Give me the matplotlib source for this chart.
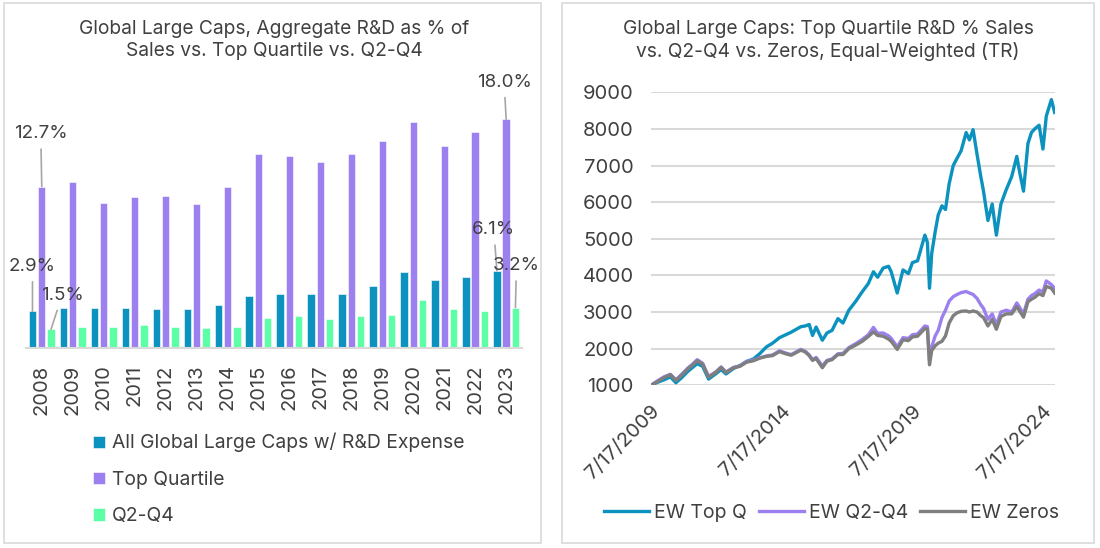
import matplotlib
matplotlib.use("Agg")
import matplotlib.pyplot as plt
from matplotlib.patches import Rectangle
import numpy as np
import pandas as pd

plt.rcParams["font.family"] = ["Inter", "DejaVu Sans"]

TEXT = "#404040"
GRID = "#d9d9d9"
C_ALL = "#0B92BE"
C_TOP = "#9D80EF"
C_Q24 = "#5CFFA5"
C_ZERO = "#7F7F7F"

# left panel: R&D as % of sales
years = [str(y) for y in range(2008, 2024)]
all_caps = [2.9, 3.2, 3.2, 3.2, 3.1, 3.1, 3.4, 4.1, 4.3, 4.3, 4.3, 4.9, 6.0, 5.4, 5.6, 6.1]
top_quartile = [12.7, 13.1, 11.4, 11.9, 12.0, 11.3, 12.7, 15.3, 15.1, 14.6, 15.3, 16.3, 17.8, 15.9, 17.0, 18.0]
q2_q4 = [1.5, 1.7, 1.7, 1.8, 1.7, 1.6, 1.7, 2.4, 2.5, 2.3, 2.5, 2.6, 3.8, 3.1, 2.9, 3.2]

# right panel: equal-weighted total return indices
line_dates = [
    "2009-07-17", "2009-10-15", "2010-01-15", "2010-04-15", "2010-07-01", "2010-09-15",
    "2010-12-15", "2011-02-15", "2011-04-25", "2011-07-10", "2011-10-01", "2012-01-15",
    "2012-03-25", "2012-06-01", "2012-09-15", "2012-12-15", "2013-03-15", "2013-06-20",
    "2013-09-15", "2013-12-20", "2014-03-15", "2014-06-20", "2014-09-15", "2014-12-01",
    "2015-04-15", "2015-06-15", "2015-08-10", "2015-09-25", "2015-11-15", "2016-02-10",
    "2016-04-15", "2016-06-25", "2016-09-15", "2016-11-25", "2017-02-15", "2017-05-25",
    "2017-08-20", "2017-11-15", "2018-01-25", "2018-03-25", "2018-06-10", "2018-08-25",
    "2018-10-01", "2018-12-24", "2019-03-15", "2019-05-30", "2019-07-25", "2019-10-05",
    "2020-01-15", "2020-02-20", "2020-03-20", "2020-04-20", "2020-06-08", "2020-07-20",
    "2020-09-10", "2020-10-30", "2020-12-20", "2021-02-15", "2021-04-10", "2021-06-05",
    "2021-08-15", "2021-09-30", "2021-11-20", "2022-01-15", "2022-03-08", "2022-04-15",
    "2022-06-16", "2022-08-15", "2022-10-12", "2022-12-15", "2023-03-01", "2023-05-15",
    "2023-07-25", "2023-09-05", "2023-10-27", "2023-12-28", "2024-02-15", "2024-04-01",
    "2024-06-01", "2024-07-25", "2024-09-10", "2024-11-20", "2025-01-05",
]
ew_top_q = [
    1000, 1080, 1150, 1230, 1070, 1200,
    1380, 1480, 1590, 1520, 1170, 1320,
    1430, 1310, 1460, 1540, 1650, 1720,
    1860, 2050, 2150, 2300, 2380, 2450,
    2600, 2620, 2660, 2360, 2590, 2230,
    2430, 2500, 2820, 2700, 3050, 3300,
    3550, 3780, 4100, 3950, 4200, 4250,
    4100, 3520, 4150, 4050, 4350, 4400,
    5100, 4900, 3650, 4600, 5200, 5650,
    5900, 5800, 6500, 7000, 7200, 7400,
    7900, 7700, 7980, 7300, 6700, 6300,
    5500, 5950, 5100, 5950, 6350, 6700,
    7250, 6800, 6300, 7600, 7900, 8000,
    8100, 7450, 8350, 8800, 8450,
]
ew_q2_q4 = [
    1000, 1120, 1230, 1300, 1150, 1290,
    1470, 1570, 1700, 1600, 1240, 1370,
    1500, 1360, 1490, 1530, 1650, 1690,
    1750, 1800, 1830, 1940, 1880, 1840,
    1980, 1930, 1830, 1700, 1760, 1530,
    1680, 1720, 1860, 1870, 2030, 2140,
    2250, 2380, 2580, 2420, 2430, 2350,
    2280, 2050, 2300, 2280, 2380, 2400,
    2620, 2600, 1680, 2050, 2350, 2500,
    2850, 3050, 3300, 3420, 3480, 3530,
    3560, 3520, 3480, 3370, 3200, 3100,
    2800, 2950, 2650, 3000, 3050, 3000,
    3250, 3120, 2950, 3350, 3450, 3500,
    3600, 3550, 3850, 3750, 3650,
]
ew_zeros = [
    1000, 1100, 1210, 1290, 1130, 1270,
    1450, 1550, 1670, 1580, 1220, 1360,
    1490, 1350, 1480, 1520, 1630, 1670,
    1740, 1790, 1810, 1920, 1860, 1820,
    1960, 1910, 1810, 1680, 1730, 1480,
    1660, 1700, 1840, 1840, 2000, 2100,
    2200, 2330, 2460, 2360, 2340, 2260,
    2200, 1980, 2240, 2220, 2320, 2340,
    2550, 2530, 1560, 1950, 2080, 2150,
    2200, 2350, 2700, 2900, 2980, 3020,
    3030, 3000, 3030, 3000, 2900, 2850,
    2620, 2800, 2530, 2880, 2950, 2950,
    3150, 3020, 2860, 3280, 3350, 3400,
    3500, 3450, 3700, 3650, 3520,
]
date_ticks = ["2009-07-17", "2014-07-17", "2019-07-17", "2024-07-17"]


def draw_bars(fig):
    ax = fig.add_axes([0.0239, 0.3644, 0.4503, 0.5261])
    x = np.arange(len(years))
    w = 0.24
    b_all = ax.bar(x - 0.3, all_caps, w, color=C_ALL, edgecolor="white", linewidth=0.4,
                   label="All Global Large Caps w/ R&D Expense")
    b_top = ax.bar(x, top_quartile, w, color=C_TOP, edgecolor="white", linewidth=0.4,
                   label="Top Quartile")
    b_q = ax.bar(x + 0.3, q2_q4, w, color=C_Q24, edgecolor="white", linewidth=0.4,
                 label="Q2-Q4")

    ax.set_xlim(-0.5, len(years) - 0.5)
    ax.set_ylim(0, 22.65)
    ax.set_yticks([])
    for side in ["top", "right", "left"]:
        ax.spines[side].set_visible(False)
    ax.spines["bottom"].set_color(GRID)
    ax.spines["bottom"].set_linewidth(1.5)
    ax.set_xticks(x)
    ax.set_xticklabels(years, rotation=90, fontsize=14.5, color=TEXT)
    ax.tick_params(axis="x", length=0, pad=11.5)

    # callouts on first and last year
    first, last = 0, len(years) - 1
    callouts = [
        (first - 0.3, all_caps[first], 0, 45),
        (first, top_quartile[first], -1, 53),
        (first + 0.3, q2_q4[first], 11, 34),
        (last - 0.3, all_caps[last], -3, 41),
        (last, top_quartile[last], -2, 37),
        (last + 0.3, q2_q4[last], 1, 42),
    ]
    for xpos, val, dx, dy in callouts:
        ax.annotate(f"{val:.1f}%", xy=(xpos, val), xytext=(dx, dy), textcoords="offset pixels",
                    ha="center", va="center", fontsize=13.5, color=TEXT,
                    arrowprops=dict(arrowstyle="-", color="#a6a6a6", lw=1.2, shrinkA=3, shrinkB=0))

    ax.legend(handles=[b_all, b_top, b_q], loc="upper left",
              bbox_to_anchor=(93 / 1100, 1 - 433 / 548), bbox_transform=fig.transFigure,
              frameon=False, fontsize=13.9, labelcolor=TEXT, handlelength=0.6, handleheight=0.6,
              handletextpad=0.4, labelspacing=0.95, borderaxespad=0, borderpad=0)

    fig.text(274.5 / 1100, 1 - 20 / 548,
             "Global Large Caps, Aggregate R&D as % of\nSales vs. Top Quartile vs. Q2-Q4",
             ha="center", va="top", fontsize=13.8, color=TEXT, linespacing=1.28)


def draw_lines(fig):
    ax = fig.add_axes([0.5918, 0.2969, 0.3673, 0.5347])
    d = pd.to_datetime(line_dates)
    ax.plot(d, ew_top_q, color=C_ALL, lw=2.4, label="EW Top Q")
    ax.plot(d, ew_q2_q4, color=C_TOP, lw=2.4, label="EW Q2-Q4")
    ax.plot(d, ew_zeros, color=C_ZERO, lw=2.4, label="EW Zeros")

    ax.set_ylim(1000, 9000)
    ax.set_yticks(range(1000, 9001, 1000))
    ax.grid(axis="y", color=GRID, lw=1.5)
    ax.set_axisbelow(True)
    for side in ["top", "right", "left", "bottom"]:
        ax.spines[side].set_visible(False)
    ticks = pd.to_datetime(date_ticks)
    ax.set_xlim(pd.Timestamp("2009-07-17"), pd.Timestamp("2025-01-10"))
    ax.set_xticks(ticks)
    ax.set_xticklabels([f"{t.month}/{t.day}/{t.year}" for t in ticks], rotation=45,
                       ha="right", va="top", rotation_mode="anchor")
    ax.tick_params(axis="both", length=0, labelsize=14.5, labelcolor=TEXT)
    ax.tick_params(axis="y", pad=12.5)
    ax.tick_params(axis="x", pad=12)

    ax.legend(loc="upper left", bbox_to_anchor=(604 / 1100, 1 - 504 / 548),
              bbox_transform=fig.transFigure, ncol=3, frameon=False, fontsize=14,
              labelcolor=TEXT, handlelength=2.3, handletextpad=0.25, columnspacing=0.65,
              borderaxespad=0, borderpad=0)

    fig.text(828 / 1100, 1 - 20 / 548,
             "Global Large Caps: Top Quartile R&D % Sales\nvs. Q2-Q4 vs. Zeros, Equal-Weighted (TR)",
             ha="center", va="top", fontsize=13.8, color=TEXT, linespacing=1.28)


def main():
    fig = plt.figure(figsize=(11, 5.48), dpi=100)
    fig.patch.set_facecolor("white")
    fig.add_artist(Rectangle((3.5 / 1100, 5 / 548), 537 / 1100, 540 / 548, transform=fig.transFigure,
                             fill=False, edgecolor=GRID, lw=1.2))
    fig.add_artist(Rectangle((562 / 1100, 5 / 548), 532 / 1100, 540 / 548, transform=fig.transFigure,
                             fill=False, edgecolor=GRID, lw=1.2))
    draw_bars(fig)
    draw_lines(fig)
    fig.savefig("out.png", dpi=100)
    plt.close(fig)


if __name__ == "__main__":
    main()
